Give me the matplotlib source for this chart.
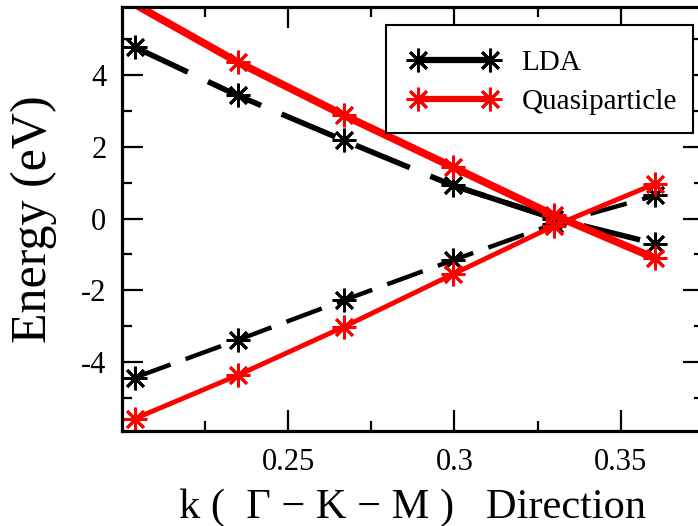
import matplotlib
matplotlib.use("Agg")
import matplotlib.pyplot as plt
from matplotlib.patches import Rectangle
from matplotlib.ticker import FixedLocator

plt.rcParams["font.family"] = ["Liberation Serif", "DejaVu Serif"]
plt.rcParams["axes.unicode_minus"] = False

# k-points along Gamma-K-M and band energies (eV)
k = [0.2040, 0.2348, 0.2668, 0.2995, 0.3300, 0.3604]
lda_upper = [4.76, 3.42, 2.17, 0.92, 0.00, -0.70]
lda_lower = [-4.42, -3.38, -2.27, -1.16, -0.15, 0.64]
qp_upper = [5.95, 4.35, 2.87, 1.43, 0.09, -1.11]
qp_lower = [-5.56, -4.36, -3.01, -1.55, -0.20, 0.97]

x_ticks = [0.25, 0.30, 0.35]
x_ticklabels = ["0.25", "0.3", "0.35"]
y_ticks = [-4, -2, 0, 2, 4]
y_ticklabels = ["-4", "-2", "0", "2", "4"]

ylo, yhi = -5.92, 5.88

W, H = 698, 526
fig = plt.figure(figsize=(W / 100, H / 100), dpi=100)
ax = fig.add_axes([0.1744, 0.1797, 0.8342, 0.807])

star = (8, 2, 0)
ms = 17
mew = 2.0


def visible(vals):
    return [i for i, v in enumerate(vals) if ylo <= v <= yhi]


# LDA bands (dashed)
ax.plot(k, lda_upper, color="black", lw=4.0, dashes=(10.5, 4.0),
        marker=star, ms=ms, mew=mew, markevery=visible(lda_upper))
ax.plot(k[3:5], lda_upper[3:5], color="black", lw=4.0, solid_capstyle="butt")
ax.plot(k, lda_lower, color="black", lw=3.2, dashes=(8.5, 3.6),
        marker=star, ms=ms, mew=mew, markevery=visible(lda_lower))

# Quasiparticle bands (solid)
ax.plot(k, qp_upper, color="red", lw=5.5,
        marker=star, ms=ms, mew=mew, markevery=visible(qp_upper))
ax.plot(k, qp_lower, color="red", lw=3.5,
        marker=star, ms=ms, mew=mew, markevery=visible(qp_lower))

# legend: square frame drawn as a patch, entries placed inside it
fig.patches.append(Rectangle((386 / W, 1 - 133 / H), 307 / W, 108 / H,
                             transform=fig.transFigure, fill=True,
                             facecolor="white", edgecolor="black",
                             linewidth=1.5, zorder=5))
h_lda, = ax.plot([], [], color="black", lw=4.5, marker=star, ms=ms, mew=mew)
h_qp, = ax.plot([], [], color="red", lw=4.5, marker=star, ms=ms, mew=mew)
leg = fig.legend([h_lda, h_qp], ["LDA", "Quasiparticle"],
                 loc="upper left", bbox_to_anchor=(409 / W, 1 - 50 / H),
                 bbox_transform=fig.transFigure, borderaxespad=0,
                 borderpad=0, numpoints=2, fontsize=21, handlelength=3.07,
                 handletextpad=0.78, labelspacing=0.42, frameon=False)
leg.set_zorder(6)

ax.set_xlim(0.2, 0.375)
ax.set_ylim(ylo, yhi)

ax.xaxis.set_major_locator(FixedLocator(x_ticks))
ax.set_xticklabels(x_ticklabels)
ax.xaxis.set_minor_locator(FixedLocator([0.225, 0.275, 0.325, 0.375]))
ax.yaxis.set_major_locator(FixedLocator(y_ticks))
ax.set_yticklabels(y_ticklabels)
ax.yaxis.set_minor_locator(FixedLocator([-5, -3, -1, 1, 3, 5]))

ax.tick_params(which="both", direction="in", top=True, right=True,
               width=1.6, labelsize=22)
ax.tick_params(which="major", length=15)
ax.tick_params(which="minor", length=7.5)
ax.tick_params(axis="x", pad=12)
ax.tick_params(axis="y", pad=11)
for s in ax.spines.values():
    s.set_linewidth(2.3)

ax.set_xlabel("k (  \u0393 \u2212 K \u2212 M )   Direction", fontsize=30.5,
              labelpad=8)
ax.set_ylabel("Energy (eV)", fontsize=36, labelpad=17)

fig.savefig("out.png", dpi=100)
